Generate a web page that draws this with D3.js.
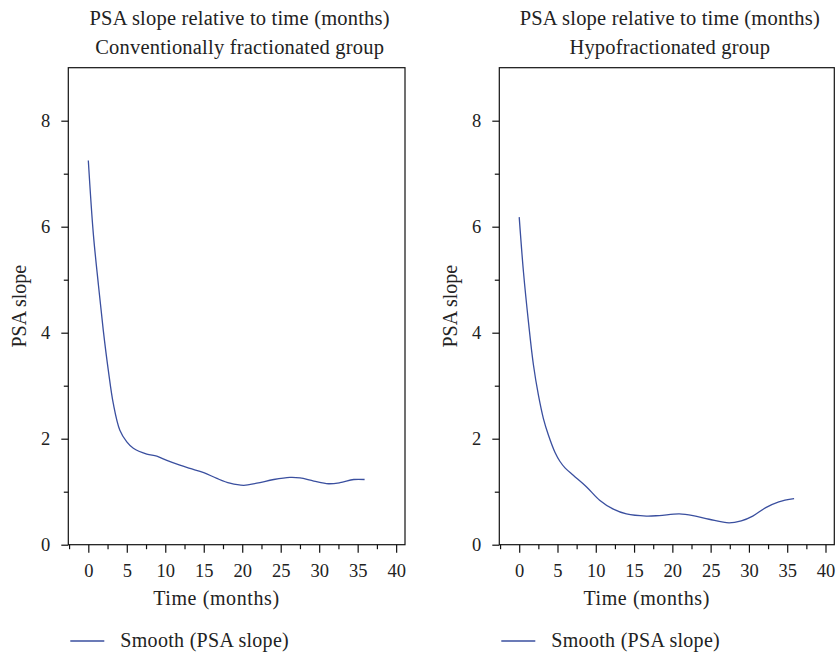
<!DOCTYPE html>
<html>
<head>
<meta charset="utf-8">
<script src="https://cdn.jsdelivr.net/npm/d3@7"></script>
<style>
  html, body { margin: 0; padding: 0; background: #fff; }
  svg { display: block; }
  text { font-family: "Liberation Serif", "Times New Roman", serif; fill: #222; }
</style>
</head>
<body>
<svg id="chart" width="837" height="655"></svg>
<script>
// Smoothed PSA slope over follow-up time, one panel per fractionation group
const titleLine1 = "PSA slope relative to time (months)";
const groupNames = ["Conventionally fractionated group", "Hypofractionated group"];
const xLabel = "Time (months)";
const yLabel = "PSA slope";
const legendLabel = "Smooth (PSA slope)";

const xMajorTicks = [0, 5, 10, 15, 20, 25, 30, 35, 40];
const xMinorTicks = [-2.5, 2.5, 7.5, 12.5, 17.5, 22.5, 27.5, 32.5, 37.5];
const yMajorTicks = [0, 2, 4, 6, 8];
const yMinorTicks = [1, 3, 5, 7];

const convMonths = [0, 0.65, 1.3, 1.95, 2.6, 3.25, 4.1, 5.0, 5.85, 7.6, 8.9, 10.2, 11.9, 13.2, 15.0, 16.7, 18.4, 20.2, 21.9, 24.1, 26.2, 27.5, 29.3, 31.2, 32.7, 34.5, 35.9];
const convSlope  = [7.25, 5.87, 4.92, 4.04, 3.29, 2.66, 2.16, 1.94, 1.82, 1.71, 1.67, 1.59, 1.50, 1.44, 1.36, 1.25, 1.16, 1.12, 1.16, 1.23, 1.27, 1.26, 1.20, 1.15, 1.17, 1.23, 1.23];

const hypoMonths = [0, 0.56, 1.21, 1.86, 2.51, 3.16, 3.81, 4.68, 5.33, 5.98, 7.06, 8.8, 10.5, 12.3, 14.0, 16.6, 18.3, 20.9, 22.7, 24.8, 27.4, 29.0, 30.5, 32.2, 33.9, 35.9];
const hypoSlope  = [6.18, 5.14, 4.20, 3.39, 2.82, 2.38, 2.07, 1.74, 1.57, 1.45, 1.31, 1.09, 0.84, 0.67, 0.58, 0.54, 0.55, 0.58, 0.55, 0.48, 0.41, 0.45, 0.54, 0.70, 0.81, 0.87];

const panels = [
  { group: groupNames[0], months: convMonths, slope: convSlope, left: 68.3, right: 405 },
  { group: groupNames[1], months: hypoMonths, slope: hypoSlope, left: 499.3, right: 834.3 }
];

const plotTop = 67.7, plotBottom = 544.7;
const lineColor = "#3a4f9f";
const svg = d3.select("#chart");

panels.forEach(p => {
  const x = d3.scaleLinear().domain([-2.6, 41.15]).range([p.left, p.right]);
  const y = d3.scaleLinear().domain([0, 9]).range([plotBottom, plotTop]);
  const g = svg.append("g");
  const cx = (p.left + p.right) / 2;

  // titles
  g.append("text").attr("x", cx + 3).attr("y", 25).attr("text-anchor", "middle")
    .style("font-size", "20.5px").style("letter-spacing", "0.2px").text(titleLine1);
  g.append("text").attr("x", cx + 3).attr("y", 54).attr("text-anchor", "middle")
    .style("font-size", "20.5px").style("letter-spacing", "0.2px").text(p.group);

  // frame
  g.append("rect").attr("x", p.left).attr("y", plotTop)
    .attr("width", p.right - p.left).attr("height", plotBottom - plotTop)
    .attr("fill", "none").attr("stroke", "#111").attr("stroke-width", 1.2);

  // y axis
  const yMajor = g.append("g").attr("transform", `translate(${p.left},0)`)
    .call(d3.axisLeft(y).tickValues(yMajorTicks).tickSize(7).tickPadding(11).tickFormat(d3.format("d")));
  const yMinor = g.append("g").attr("transform", `translate(${p.left},0)`)
    .call(d3.axisLeft(y).tickValues(yMinorTicks).tickSize(4.5).tickFormat(""));

  // x axis
  const xMajor = g.append("g").attr("transform", `translate(0,${plotBottom})`)
    .call(d3.axisBottom(x).tickValues(xMajorTicks).tickSize(8).tickFormat(d3.format("d")));
  const xMinor = g.append("g").attr("transform", `translate(0,${plotBottom})`)
    .call(d3.axisBottom(x).tickValues(xMinorTicks).tickSize(4.5).tickFormat(""));

  [yMajor, yMinor, xMajor, xMinor].forEach(a => {
    a.select(".domain").remove();
    a.selectAll("line").attr("stroke", "#111").attr("stroke-width", 1.2);
    a.selectAll("text").style("font-family", "'Liberation Serif', serif")
      .style("font-size", "18.5px").attr("fill", "#222");
  });
  xMajor.selectAll("text").attr("y", 32).attr("dy", "0");

  // axis titles
  g.append("text").attr("transform", `translate(${p.left - 42.5},${(plotTop + plotBottom) / 2}) rotate(-90)`)
    .attr("text-anchor", "middle").style("font-size", "20px").text(yLabel);
  g.append("text").attr("x", p.left + 0.44 * (p.right - p.left)).attr("y", 605)
    .attr("text-anchor", "middle").style("font-size", "20px").style("letter-spacing", "0.6px").text(xLabel);

  // smoothed curve
  const pts = p.months.map((m, i) => [m, p.slope[i]]);
  const line = d3.line().x(d => x(d[0])).y(d => y(d[1])).curve(d3.curveCatmullRom.alpha(0.5));
  g.append("path").datum(pts).attr("d", line)
    .attr("fill", "none").attr("stroke", lineColor).attr("stroke-width", 1.3);

  // legend
  g.append("line").attr("x1", p.left + 2).attr("x2", p.left + 36)
    .attr("y1", 641).attr("y2", 641).attr("stroke", lineColor).attr("stroke-width", 1.3);
  g.append("text").attr("x", p.left + 52).attr("y", 647)
    .style("font-size", "20px").style("letter-spacing", "0.3px").text(legendLabel);
});
</script>
</body>
</html>
